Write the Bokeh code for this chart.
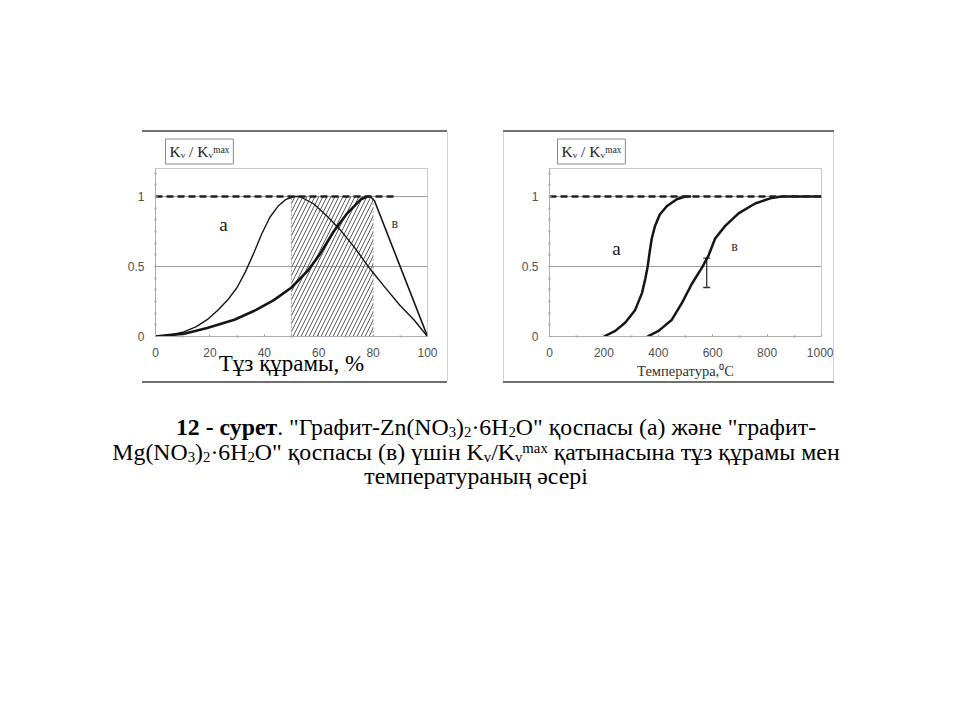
from bokeh.plotting import figure
from bokeh.models import (Range1d, FixedTicker, Label, Spacer, Div,
                          ColumnDataSource, Whisker, TeeHead)
from bokeh.layouts import row, column
from bokeh.embed import file_html
from bokeh.resources import INLINE

# ---------------- data ----------------
# left panel: salt content, %
left_xticks = [0, 20, 40, 60, 80, 100]
left_a_x = [0, 5, 10, 15, 19, 23, 26.5, 30, 33, 36, 39, 42, 45, 48, 51, 53, 58, 63, 68, 73, 79, 84, 90, 95, 100]
left_a_y = [0, 0.01, 0.03, 0.07, 0.12, 0.19, 0.26, 0.35, 0.46, 0.59, 0.73, 0.85, 0.93, 0.98, 1.0, 1.0, 0.95, 0.86, 0.76, 0.64, 0.48, 0.36, 0.22, 0.12, 0]
left_b_rise_x = [0, 5, 10.5, 19, 29, 37, 43.5, 50, 56, 60.5, 65.5, 70.5, 75.5, 78, 79]
left_b_rise_y = [0, 0.01, 0.02, 0.06, 0.12, 0.19, 0.26, 0.35, 0.47, 0.59, 0.75, 0.88, 0.98, 1.0, 1.0]
left_b_fall_x = [79, 80.5, 100]
left_b_fall_y = [1.0, 0.97, 0]
left_hatch = [50, 80]
left_dash_x = [0, 88]
left_dash_y = [1, 1]

# right panel: temperature, C
right_xticks = [0, 200, 400, 600, 800, 1000]
right_a_x = [200, 242, 279, 315, 340, 352, 361, 368, 376, 388, 405, 431, 468, 499, 520]
right_a_y = [0, 0.04, 0.10, 0.19, 0.31, 0.41, 0.50, 0.60, 0.70, 0.79, 0.87, 0.93, 0.98, 1.0, 1.0]
right_b_x = [360, 401, 450, 487, 523, 560, 585, 609, 646, 695, 756, 817, 853, 1000]
right_b_y = [0, 0.04, 0.12, 0.24, 0.375, 0.49, 0.58, 0.70, 0.79, 0.88, 0.95, 0.99, 1.0, 1.0]
right_err_x = [578]
right_err_lo = [0.35]
right_err_hi = [0.56]
right_dash_x = [0, 1000]
right_dash_y = [1, 1]

y_ticks = [0, 0.5, 1]
y_minor = [i * 0.5 / 6 for i in range(1, 15)]

SERIF = "Liberation Serif"
SANS = "Liberation Sans"
INK = "#151515"
KV = "Kᵥ / Kᵥᵐᵃˣ"


def make_panel(xmax, xticks, xminor, width, left_b, right_b, xlabel, xlabel_size, xlabel_color, standoff, title_offset):
    p = figure(width=width, height=249, x_range=Range1d(0, xmax), y_range=Range1d(0, 1.2),
               output_backend="svg", toolbar_location=None,
               min_border_left=left_b, min_border_right=right_b,
               min_border_top=35, min_border_bottom=43, title=KV)
    p.background_fill_color = "white"
    p.border_fill_color = "white"
    p.outline_line_color = "#c8c8c8"
    p.outline_line_width = 1
    p.xgrid.visible = False
    p.ygrid.ticker = FixedTicker(ticks=[0.5, 1])
    p.ygrid.grid_line_color = "#9a9a9a"
    p.ygrid.grid_line_width = 1
    for ax in (p.xaxis[0], p.yaxis[0]):
        ax.axis_line_color = "#b0b0b0"
        ax.major_tick_line_color = "#999999"
        ax.major_tick_in = 2
        ax.major_tick_out = 0
        ax.minor_tick_line_color = "#a8a8a8"
        ax.minor_tick_line_width = 2
        ax.minor_tick_in = 1
        ax.minor_tick_out = 1
        ax.major_label_text_font = SANS
        ax.major_label_text_font_size = "12px"
        ax.major_label_text_color = "#505050"
        ax.major_label_standoff = 10
    p.xaxis.ticker = FixedTicker(ticks=xticks, minor_ticks=xminor)
    p.yaxis.ticker = FixedTicker(ticks=y_ticks, minor_ticks=y_minor)
    p.yaxis.major_label_overrides = {0: "0", 0.5: "0.5", 1: "1"}
    p.xaxis.axis_label = xlabel
    p.xaxis.axis_label_text_font = SERIF
    p.xaxis.axis_label_text_font_style = "normal"
    p.xaxis.axis_label_text_font_size = xlabel_size
    p.xaxis.axis_label_text_color = xlabel_color
    p.xaxis.axis_label_standoff = standoff
    t = p.title
    t.align = "left"
    t.offset = title_offset
    t.standoff = 9
    t.text_font = SERIF
    t.text_font_style = "normal"
    t.text_font_size = "15.5px"
    t.text_color = "#222222"
    t.border_line_color = "#8a8a8a"
    t.border_line_width = 1
    t.background_fill_color = "white"
    t.padding = 4
    return p


# ---------------- left panel ----------------
p1 = make_panel(100, left_xticks, [10, 30, 50, 70, 90], 335, 43, 20,
                "Тұз құрамы, %", "23px", "#000000", -9, 10)
p1.quad(left=[left_hatch[0]], right=[left_hatch[1]], bottom=[0], top=[1],
        fill_alpha=0, hatch_pattern="/", hatch_color="#4a4a4a", hatch_scale=8,
        hatch_weight=0.9, line_color="#9a9a9a", line_dash="2 2", line_width=1)
p1.line(left_a_x, left_a_y, line_color=INK, line_width=1.4)
p1.line(left_b_rise_x, left_b_rise_y, line_color=INK, line_width=2.6)
p1.line(left_b_fall_x, left_b_fall_y, line_color=INK, line_width=1.6)
p1.line(left_dash_x, left_dash_y, line_color="#202020", line_width=2.4, line_dash="7 4")
p1.add_layout(Label(x=25, y=0.80, text="а", text_font=SERIF, text_font_size="19px",
                    text_color=INK, text_align="center", text_baseline="middle"))
p1.add_layout(Label(x=88, y=0.81, text="в", text_font=SERIF, text_font_size="14px",
                    text_color="#333333", text_align="center", text_baseline="middle"))

# ---------------- right panel ----------------
p2 = make_panel(1000, right_xticks, [100, 300, 500, 700, 900], 329, 45, 12,
                "Температура,⁰C", "14.5px", "#333333", 3, 8)
p2.line(right_a_x, right_a_y, line_color=INK, line_width=2.5)
p2.line(right_b_x, right_b_y, line_color=INK, line_width=2.5)
p2.line(right_dash_x, right_dash_y, line_color="#202020", line_width=2.4, line_dash="7 4")
err_src = ColumnDataSource(dict(x=right_err_x, lo=right_err_lo, hi=right_err_hi))
p2.add_layout(Whisker(source=err_src, base="x", lower="lo", upper="hi",
                      line_color="#333333", line_width=1.3,
                      lower_head=TeeHead(size=7, line_color="#333333", line_width=1.3),
                      upper_head=TeeHead(size=7, line_color="#333333", line_width=1.3)))
p2.add_layout(Label(x=246, y=0.63, text="а", text_font=SERIF, text_font_size="19px",
                    text_color=INK, text_align="center", text_baseline="middle"))
p2.add_layout(Label(x=680, y=0.64, text="в", text_font=SERIF, text_font_size="14px",
                    text_color="#333333", text_align="center", text_baseline="middle"))


# ---------------- picture frames (thin layout strips) ----------------
def strip(w, h, color):
    return Div(text="", width=w, height=h, styles={"background-color": color, "padding": "0", "margin": "0"})


DARK = "#707070"
LIGHT = "#d0d0d0"
top_lines = row(Spacer(width=142), strip(305, 2, DARK), Spacer(width=56), strip(331, 2, DARK))
bottom_lines = row(Spacer(width=142), strip(305, 2, DARK), Spacer(width=56), strip(331, 2, DARK))
panels = row(Spacer(width=112), p1, strip(1, 249, LIGHT), Spacer(width=55),
             strip(1, 249, LIGHT), p2, strip(1, 249, LIGHT))

# ---------------- caption ----------------
sub = '<span style="font-size:0.62em;vertical-align:-0.12em;line-height:0">%s</span>'
sup = '<span style="font-size:0.62em;vertical-align:0.45em;line-height:0">%s</span>'
line1 = ('<b>12 - сурет</b>. "Графит-Zn(NO' + sub % "3" + ')' + sub % "2" + '·6H' + sub % "2" +
         'O" қоспасы (а) және "графит-')
line2 = ('Mg(NO' + sub % "3" + ')' + sub % "2" + '·6H' + sub % "2" + 'O" қоспасы (в) үшін K' +
         sub % "v" + '/K' + sub % "v" + sup % "max" + ' қатынасына тұз құрамы мен')
line3 = 'температураның әсері'
html = ('<div style="text-indent:40px">' + line1 + '</div><div>' + line2 +
        '</div><div>' + line3 + '</div>')
caption = Div(text=html, width=790, styles={
    "font-family": "'Liberation Serif', 'Times New Roman', serif",
    "font-size": "23.8px", "line-height": "24.5px", "text-align": "center",
    "color": "#000000", "white-space": "nowrap"})

layout = column(
    Spacer(height=130),
    top_lines,
    panels,
    bottom_lines,
    Spacer(height=27),
    row(Spacer(width=76), caption),
)

open("out.html", "w").write(file_html(layout, INLINE))
